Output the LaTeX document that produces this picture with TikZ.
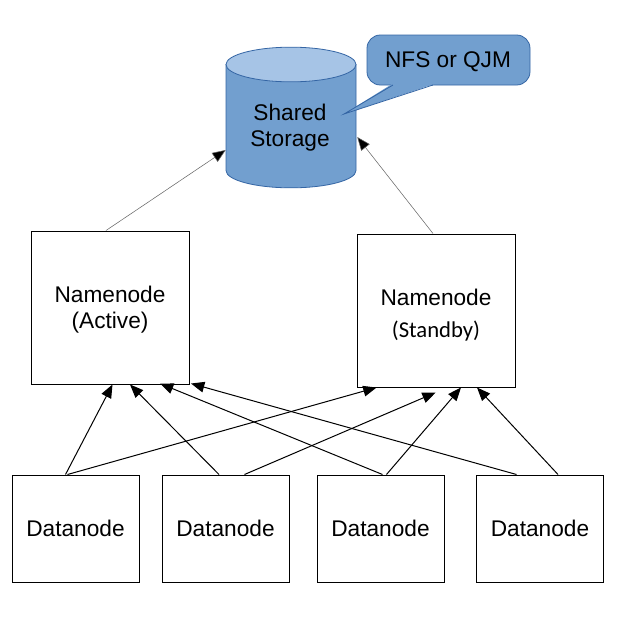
\documentclass[tikz,border=0pt]{standalone}
\usepackage{fontspec}
\setmainfont{Liberation Sans}
\newfontfamily\carlito{Carlito}
\usetikzlibrary{arrows.meta,calc}
\definecolor{cylbody}{HTML}{729FCF}
\definecolor{cyltop}{HTML}{A6C4E6}
\definecolor{cylline}{HTML}{3465A4}
\tikzset{
  box/.style={draw=black,line width=0.75pt,fill=white,inner sep=0pt,align=center,
    font=\fontsize{17}{19.5}\selectfont},
  namebox/.style={box,minimum width=118.5pt,minimum height=114.75pt},
  databox/.style={box,minimum width=95.25pt,minimum height=80.25pt},
  link/.style={line width=0.75pt,-{Triangle[length=10pt,width=8pt]}},
  toplink/.style={draw=black!60,line width=0.4pt,-{Triangle[length=10pt,width=8pt,fill=black]}},
  cylfill/.style={fill=cylbody,draw=cylline,line width=0.6pt},
}
\begin{document}
\begin{tikzpicture}[x=0.75pt,y=-0.75pt]
\useasboundingbox (0,0) rectangle (617,640);
% namenodes
\node[namebox] (act) at (110,307.5) {};
\node[align=center,font=\fontsize{17}{19.5}\selectfont] at (110,310) {Namenode\\(Active)};
\node[namebox] (sb) at (436,310.5) {};
\node[align=center,font=\fontsize{17}{19.5}\selectfont] at (436,315) {Namenode\\[4pt]{\carlito\fontsize{17}{19.5}\selectfont(Standby)}};
% datanodes
\node[databox] (d1) at (75.5,528.5) {Datanode};
\node[databox] (d2) at (225.5,528.5) {Datanode};
\node[databox] (d3) at (380.5,528.5) {Datanode};
\node[databox] (d4) at (540,528.5) {Datanode};
% shared storage cylinder
\node[minimum width=97.5pt,minimum height=105pt,inner sep=0pt] (store) at (291,117.5) {};
\filldraw[cylfill] (226,64.5) -- (226,170.5)
  arc[start angle=180,end angle=360,x radius=48.75pt,y radius=13pt]
  -- (356,64.5) -- cycle;
\filldraw[fill=cyltop,draw=cylline,line width=0.6pt] (291,64.5) ellipse[x radius=48.75pt,y radius=13pt];
\node[align=center,font=\fontsize{17}{19.5}\selectfont] at (290,128) {Shared\\Storage};
% callout
\node[fill=cylbody,draw=cylline,line width=0.6pt,rounded corners=10pt,minimum width=122.25pt,minimum height=37.5pt,inner sep=0pt] (nfs) at (448.5,60) {};
\node[font=\fontsize{17}{19.5}\selectfont] at (448,62) {NFS or QJM};
\fill[cylbody] (392,84) -- (344,114) -- (434,84) -- cycle;
\draw[draw=cylline,line width=0.6pt] (393,85) -- (344,114) -- (433,85);
% top connectors
\draw[toplink] ($(act.north)+(-4,0)$) -- ($(store.west)+(0,32.5)$);
\draw[toplink] ($(sb.north)+(-3,0)$) -- ($(store.east)+(1,19.5)$);
% bottom connectors
\draw[link] ($(d1.north)+(-10,0)$) -- ($(act.south)+(2.5,0)$);
\draw[link] ($(d1.north)+(-8,0)$) -- ($(sb.south)+(-59.4,0)$);
\draw[link] ($(d2.north)+(-6.5,0)$) -- ($(act.south)+(20,0)$);
\draw[link] ($(d2.north)+(19,0)$) -- ($(sb.south)+(-0.3,5)$);
\draw[link] ($(d3.north)+(2,0)$) -- ($(act.south)+(50,-1)$);
\draw[link] ($(d3.north)+(6,0)$) -- ($(sb.south)+(25,0)$);
\draw[link] ($(d4.north)+(-23.5,0)$) -- ($(act.south)+(81,-1)$);
\draw[link] ($(d4.north)+(18,0)$) -- ($(sb.south)+(41,0)$);
\end{tikzpicture}
\end{document}
